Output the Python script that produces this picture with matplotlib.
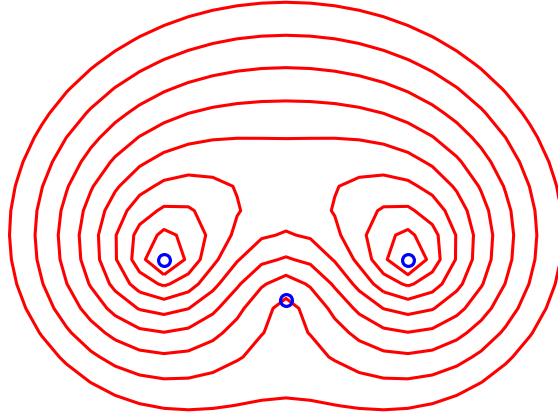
import numpy as np
import matplotlib.pyplot as plt

# the three sites: two attracting (A, B) and one repelling (C)
site_x = [-1.0, 1.0, 0.0]
site_y = [0.0, 0.0, -1.0 / 3.0]
site_w = [1.0, 1.0, -1.0]

# contour levels of the weighted distance sum
levels = [1.105, 1.221, 1.350, 1.492, 1.649, 1.822, 2.014, 2.226]

# coarse sampling grid, step 0.2
gx = np.arange(-2.6, 2.61, 0.2)
gy = np.arange(-1.6, 2.41, 0.2)
X, Y = np.meshgrid(gx, gy)

Z = np.zeros_like(X)
for sx, sy, sw in zip(site_x, site_y, site_w):
    Z += sw * np.hypot(X - sx, Y - sy)

fig = plt.figure(figsize=(5.58, 4.14), dpi=100)
ax = fig.add_axes([0, 0, 1, 1])
ax.contour(X, Y, Z, levels=levels, colors='red', linewidths=2.2)
ax.plot(site_x, site_y, 'o', mfc='none', mec='blue', ms=8.5, mew=2.3)
ax.set_xlim(-2.344, 2.230)
ax.set_ylim(-1.258, 2.135)
ax.axis('off')
fig.savefig('out.png', dpi=100)
